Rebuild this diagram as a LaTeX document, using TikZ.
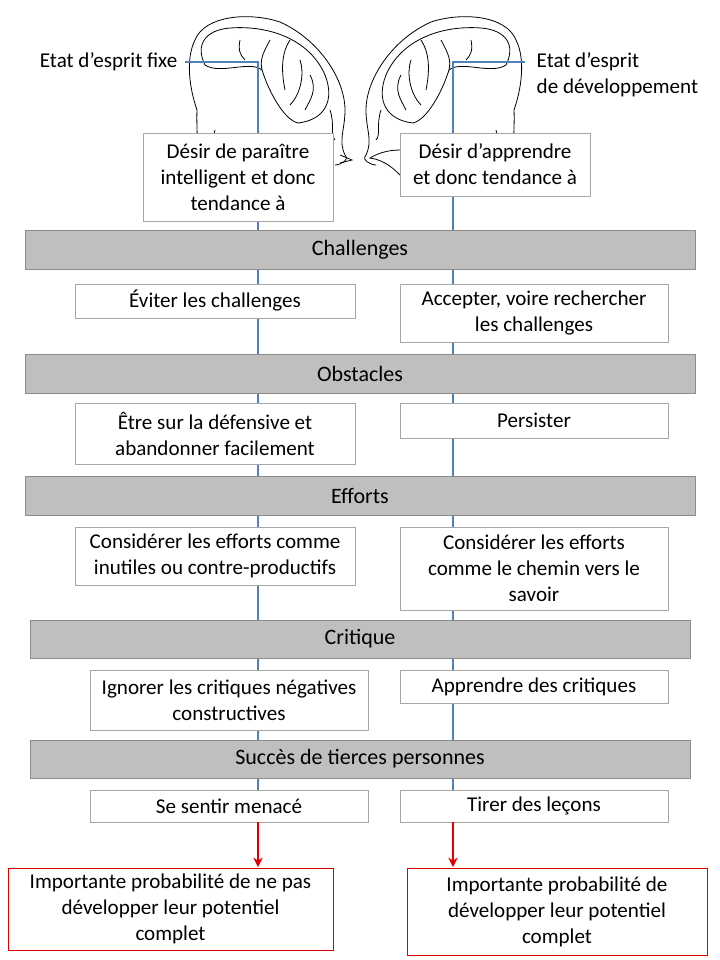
\documentclass[tikz,border=0pt]{standalone}
\usepackage{fontspec}
\setmainfont{Carlito}
\usetikzlibrary{arrows.meta}
\definecolor{lineblue}{HTML}{4F81BD}
\begin{document}
\begin{tikzpicture}[x=0.75pt,y=-0.75pt,
  box/.style={draw=black!35,fill=white,align=center,inner sep=1pt,font=\fontsize{15.8}{19.5}\selectfont},
  bar/.style={draw=black!45,fill=black!25,font=\fontsize{16.5}{19}\selectfont},
  res/.style={draw=red!85!black,fill=white,align=center,inner sep=1pt,font=\fontsize{15.8}{19.5}\selectfont},
  blue line/.style={draw=lineblue,line width=1.8pt},
  arr/.style={draw=red!90!black,line width=1.5pt,-{Stealth[length=7pt,width=7pt]}},
  head/.style={line width=0.6pt}]
\useasboundingbox (0,0) rectangle (720,960);
% heads
\newcommand{\headpic}{%
  \draw[head] (195,185) .. controls (200,160) and (196,130) .. (197,110)
    .. controls (190,90) and (185,60) .. (195,40) .. controls (205,15) and (250,12) .. (280,22)
    .. controls (320,40) and (345,80) .. (345,110) .. controls (345,130) and (338,140) .. (345,155)
    .. controls (350,160) and (340,165) .. (335,165);
  \draw[head] (205,65) .. controls (195,45) and (205,30) .. (230,28) .. controls (270,25) and (310,40) .. (325,75)
    .. controls (335,100) and (325,120) .. (298,123) .. controls (285,120) and (270,95) .. (262,70)
    .. controls (250,60) and (220,75) .. (205,65);
  \draw[head] (270,40) .. controls (262,55) and (260,60) .. (262,70);
  \draw[head] (290,40) .. controls (280,55) and (282,75) .. (285,90);
  \draw[head] (300,60) .. controls (305,75) and (300,95) .. (290,105);
  \draw[head] (240,40) .. controls (238,50) and (240,55) .. (245,60);
  \draw[head] (310,75) .. controls (318,90) and (310,100) .. (305,110);
  \draw[head] (215,130) .. controls (212,140) and (214,150) .. (208,160);
  \draw[head] (330,110) .. controls (335,125) and (330,135) .. (335,140);
}
\headpic
\begin{scope}[xshift=711*0.75pt,xscale=-1]\headpic\end{scope}
\draw[head] (340,155) -- (352,160) -- (340,163);
\draw[head] (400,150) .. controls (385,150) and (375,155) .. (370,158) .. controls (385,160) and (395,170) .. (400,175);
% labels
\node[anchor=east,font=\fontsize{15.8}{19.5}\selectfont] (lf) at (182,62) {Etat d'esprit fixe};
\node[anchor=west,align=left,font=\fontsize{15.8}{19.5}\selectfont] (lg) at (532,75) {Etat d'esprit\\de développement};
% blue lines
\coordinate (L0) at (185,62); \coordinate (L1) at (258,62); \coordinate (L2) at (258,822);
\coordinate (R0) at (525,62); \coordinate (R1) at (453,62); \coordinate (R2) at (453,822);
\draw[blue line] (L0) -- (L1) -- (L2);
\draw[blue line] (R0) -- (R1) -- (R2);
% top boxes
\node[box,minimum width=190*0.75pt,minimum height=88*0.75pt] (t1) at (238,177) {Désir de paraître\\intelligent et donc\\tendance à};
\node[box,minimum width=190*0.75pt,minimum height=63*0.75pt] (t2) at (495,164.5) {Désir d'apprendre\\et donc tendance à};
% bars
\node[bar,minimum width=670*0.75pt,minimum height=39*0.75pt] (b1) at (360,249.5) {Challenges};
\node[bar,minimum width=670*0.75pt,minimum height=39*0.75pt] (b2) at (360,373.5) {Obstacles};
\node[bar,minimum width=670*0.75pt,minimum height=39*0.75pt] (b3) at (360,495.5) {Efforts};
\node[bar,minimum width=660*0.75pt,minimum height=38*0.75pt] (b4) at (360,639) {Critique};
\node[bar,minimum width=660*0.75pt,minimum height=38*0.75pt] (b5) at (360,759) {Succès de tierces personnes};
% boxes
\node[box,minimum width=280*0.75pt,minimum height=34*0.75pt] (a1) at (215,301) {Éviter les challenges};
\node[box,minimum width=268*0.75pt,minimum height=58*0.75pt] (a2) at (534,313) {Accepter, voire rechercher\\les challenges};
\node[box,minimum width=280*0.75pt,minimum height=61*0.75pt] (c1) at (215,433.5) {Être sur la défensive et\\abandonner facilement};
\node[box,minimum width=268*0.75pt,minimum height=35*0.75pt] (c2) at (534,420.5) {Persister};
\node[box,minimum width=280*0.75pt,minimum height=58*0.75pt] (d1) at (215,556) {Considérer les efforts comme\\inutiles ou contre-productifs};
\node[box,minimum width=268*0.75pt,minimum height=83*0.75pt] (d2) at (534,568.5) {Considérer les efforts\\comme le chemin vers le\\savoir};
\node[box,minimum width=278*0.75pt,minimum height=60*0.75pt] (e1) at (229,700) {Ignorer les critiques négatives\\constructives};
\node[box,minimum width=268*0.75pt,minimum height=33*0.75pt] (e2) at (534,686.5) {Apprendre des critiques};
\node[box,minimum width=278*0.75pt,minimum height=32*0.75pt] (f1) at (229,806) {Se sentir menacé};
\node[box,minimum width=268*0.75pt,minimum height=32*0.75pt] (f2) at (534,806) {Tirer des leçons};
% results
\node[res,minimum width=325*0.75pt,minimum height=82*0.75pt] (r1) at (170.5,909) {Importante probabilité de ne pas\\développer leur potentiel\\complet};
\node[res,minimum width=300*0.75pt,minimum height=87*0.75pt] (r2) at (557,911.5) {Importante probabilité de\\développer leur potentiel\\complet};
\draw[arr] (L2) -- (258,867);
\draw[arr] (R2) -- (453,867);
\end{tikzpicture}
\end{document}
